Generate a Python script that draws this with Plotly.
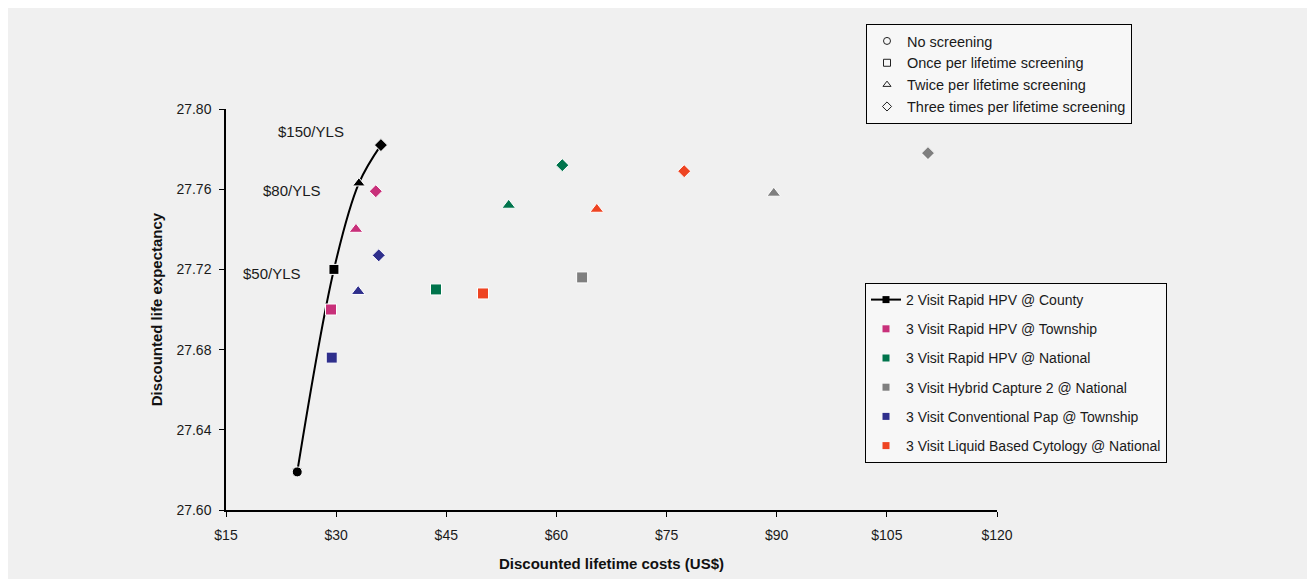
import plotly.graph_objects as go

# ---- data ----
series_names = [
    "2 Visit Rapid HPV @ County",
    "3 Visit Rapid HPV @ Township",
    "3 Visit Rapid HPV @ National",
    "3 Visit Hybrid Capture 2 @ National",
    "3 Visit Conventional Pap @ Township",
    "3 Visit Liquid Based Cytology @ National",
]
series_colors = ["#000000", "#c8307a", "#00744c", "#7f7f7f", "#2f2f8c", "#ee4422"]

# costs (US$) and life expectancy; order: no screening, once, twice, three times
county_cost = [24.7, 29.7, 33.1, 36.1]
county_le = [27.619, 27.720, 27.763, 27.782]

township_cost = [29.3, 32.7, 35.4]
township_le = [27.700, 27.740, 27.759]

national_cost = [43.6, 53.5, 60.8]
national_le = [27.710, 27.752, 27.772]

hc2_cost = [63.5, 89.6, 110.6]
hc2_le = [27.716, 27.758, 27.778]

pap_cost = [29.4, 33.0, 35.8]
pap_le = [27.676, 27.709, 27.727]

lbc_cost = [50.0, 65.5, 77.4]
lbc_le = [27.708, 27.750, 27.769]

screen_labels = ["No screening", "Once per lifetime screening",
                 "Twice per lifetime screening", "Three times per lifetime screening"]
screen_symbols = ["circle", "square", "triangle-up", "diamond"]

wtp_labels = ["$150/YLS", "$80/YLS", "$50/YLS"]
wtp_x = [26.6, 24.0, 21.3]
wtp_y = [27.789, 27.7596, 27.718]

x_ticks = [15, 30, 45, 60, 75, 90, 105, 120]
y_ticks = [27.60, 27.64, 27.68, 27.72, 27.76, 27.80]

font_main = "Liberation Sans, Arial, sans-serif"

fig = go.Figure()

# frontier line (county)
fig.add_trace(go.Scatter(
    x=county_cost, y=county_le, mode="lines+markers",
    line=dict(color="black", width=2, shape="spline", smoothing=1.0),
    marker=dict(symbol=screen_symbols, size=[10, 10, 11, 10], color="black",
                opacity=1),
    showlegend=False))

others = [
    (township_cost, township_le, series_colors[1]),
    (national_cost, national_le, series_colors[2]),
    (hc2_cost, hc2_le, series_colors[3]),
    (pap_cost, pap_le, series_colors[4]),
    (lbc_cost, lbc_le, series_colors[5]),
]
for cx, cy, col in others:
    fig.add_trace(go.Scatter(
        x=cx, y=cy, mode="markers",
        marker=dict(symbol=screen_symbols[1:], size=[11, 12, 10], color=col,
                    opacity=1),
        showlegend=False))

# legend 1: screening frequency symbols
for lab, sym in zip(screen_labels, screen_symbols):
    fig.add_trace(go.Scatter(
        x=[None], y=[None], mode="markers", name=lab,
        marker=dict(symbol=sym + "-open", size=7, color="#222",
                    line=dict(width=1, color="#222")),
        legend="legend"))

# legend 2: strategies
for i, (nm, col) in enumerate(zip(series_names, series_colors)):
    if i == 0:
        fig.add_trace(go.Scatter(
            x=[None], y=[None], mode="lines+markers", name=nm,
            line=dict(color=col, width=2),
            marker=dict(symbol="square", size=7, color=col),
            legend="legend2", legendgroup="g%d" % i))
    else:
        fig.add_trace(go.Scatter(
            x=[None], y=[None], mode="markers", name=nm,
            marker=dict(symbol="square", size=7, color=col),
            legend="legend2", legendgroup="g%d" % i))

for lab, ax_, ay_ in zip(wtp_labels, wtp_x, wtp_y):
    fig.add_annotation(x=ax_, y=ay_, text=lab, showarrow=False,
                       font=dict(size=15, color="#1a1a1a", family=font_main))

# page body has an 8px margin, so margins are offset by 8px
fig.update_layout(
    width=1315, height=579,
    margin=dict(l=218, r=326, t=101, b=77),
    paper_bgcolor="#f0f0f0", plot_bgcolor="#f0f0f0",
    font=dict(family=font_main, size=13, color="#1a1a1a"),
    xaxis=dict(
        range=[15, 120], tickvals=x_ticks,
        ticktext=["$%d" % v for v in x_ticks],
        showgrid=False, zeroline=False, automargin=False,
        showline=True, linecolor="black", linewidth=1.5,
        ticks="outside", ticklen=5, tickcolor="black",
        ticklabelstandoff=6,
        tickfont=dict(size=14, color="#1a1a1a"),
        title=dict(text="<b>Discounted lifetime costs (US$)</b>",
                   font=dict(size=15, color="#111"), standoff=17),
    ),
    yaxis=dict(
        range=[27.60, 27.80], tickvals=y_ticks,
        ticktext=["%.2f" % v for v in y_ticks],
        showgrid=False, zeroline=False, automargin=False,
        showline=True, linecolor="black", linewidth=1.5,
        ticks="outside", ticklen=5, tickcolor="black",
        ticklabelstandoff=5,
        tickfont=dict(size=14, color="#1a1a1a"),
        title=dict(text="<b>Discounted life expectancy</b>",
                   font=dict(size=15, color="#111"), standoff=10),
    ),
    legend=dict(
        x=(866 - 226) / 771, y=(510 - 24) / 401, xanchor="left", yanchor="top",
        bgcolor="#f7f7f7", bordercolor="black", borderwidth=1,
        font=dict(size=14.5, color="#1a1a1a", family=font_main),
        tracegroupgap=0,
    ),
    legend2=dict(
        x=(865 - 226) / 771, y=(510 - 283) / 401, xanchor="left", yanchor="top",
        bgcolor="#f7f7f7", bordercolor="black", borderwidth=1,
        font=dict(size=14, color="#1a1a1a", family=font_main),
        tracegroupgap=8,
    ),
)

fig.write_html("out.html")
